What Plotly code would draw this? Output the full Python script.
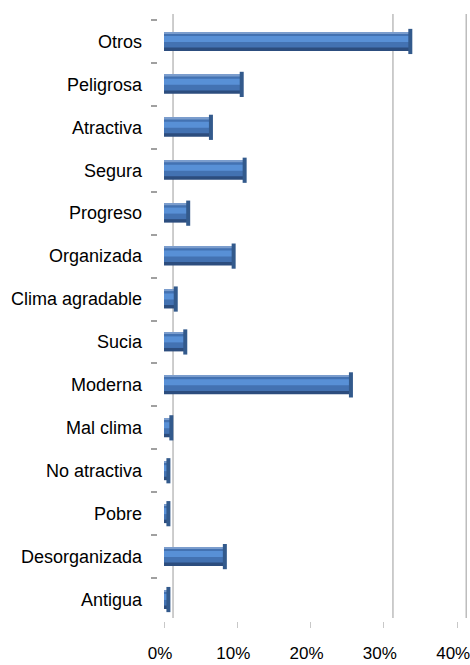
import plotly.graph_objects as go

categories = ["Otros", "Peligrosa", "Atractiva", "Segura", "Progreso", "Organizada",
              "Clima agradable", "Sucia", "Moderna", "Mal clima", "No atractiva",
              "Pobre", "Desorganizada", "Antigua"]
values = [33.6, 10.6, 6.4, 11.0, 3.3, 9.5, 1.6, 2.9, 25.5, 1.0, 0.6, 0.6, 8.3, 0.6]
x_ticks = [0, 10, 20, 30, 40]
x_tick_labels = ["0%", "10%", "20%", "30%", "40%"]
grid_values = [0, 30, 40]

FONT = "Liberation Sans, Arial, sans-serif"
X_RANGE = [-0.82, 41.47]
LABEL_SHIFT = 0.55  # tick labels sit slightly left of the front bar origin (3D look)
fig = go.Figure()

# layered bars to mimic a cylinder shading
layers = [
    (0.44, -0.22, "#2c4d7e"),
    (0.36, -0.22, "#4372b2"),
    (0.14, -0.13, "#5890d6"),
    (0.035, -0.22, "#7b9dcd"),
]
for w, off, col in layers:
    fig.add_trace(go.Bar(
        x=values, y=categories, orientation="h",
        width=w, offset=off, marker=dict(color=col, line=dict(width=0)),
        hoverinfo="skip", showlegend=False))

# end caps
fig.add_trace(go.Scatter(
    x=values, y=categories, mode="markers",
    marker=dict(symbol="line-ns-open", size=18, color="#335a8c",
                line=dict(width=4, color="#335a8c")),
    hoverinfo="skip", showlegend=False))

# back-plane gridlines (offset for 3D look)
for g in grid_values:
    fig.add_shape(type="line", xref="x", yref="paper", x0=g + 1.23, x1=g + 1.23,
                  y0=0.005, y1=1.01, line=dict(color="#bdbdbd", width=1.5), layer="below")

fig.update_layout(
    width=470, height=665,
    margin=dict(l=158, r=2, t=20, b=44, autoexpand=False),
    paper_bgcolor="white", plot_bgcolor="white",
    barmode="overlay",
    font=dict(family=FONT, size=18, color="black"),
    xaxis=dict(range=X_RANGE, tickvals=x_ticks, showticklabels=False,
               showgrid=False, zeroline=False, showline=False, automargin=False,
               ticks="outside", ticklen=6, tickcolor="#c8c8c8"),
    xaxis2=dict(range=[X_RANGE[0] + LABEL_SHIFT, X_RANGE[1] + LABEL_SHIFT],
                overlaying="x", side="bottom", anchor="y",
                tickvals=x_ticks, ticktext=x_tick_labels,
                showgrid=False, zeroline=False, showline=False, automargin=False,
                ticks="", ticklabelstandoff=20, ticklabeloverflow="allow",
                tickfont=dict(size=17, family=FONT)),
    yaxis=dict(categoryorder="array", categoryarray=categories,
               range=[13.5, -0.5], autorange=False,
               showgrid=False, zeroline=False, showline=False, automargin=False,
               ticks="outside", tickson="boundaries", ticklen=6, tickcolor="#a0a0a0",
               tickwidth=1.5, ticklabelstandoff=15, tickfont=dict(size=18, family=FONT)),
)
# invisible helper trace so the label axis is drawn
fig.add_trace(go.Scatter(x=[None], y=[None], xaxis="x2", showlegend=False, hoverinfo="skip"))

fig.write_html("out.html",
               config={"displayModeBar": False},
               post_script="document.body.style.margin='0';document.body.style.overflow='hidden';")
